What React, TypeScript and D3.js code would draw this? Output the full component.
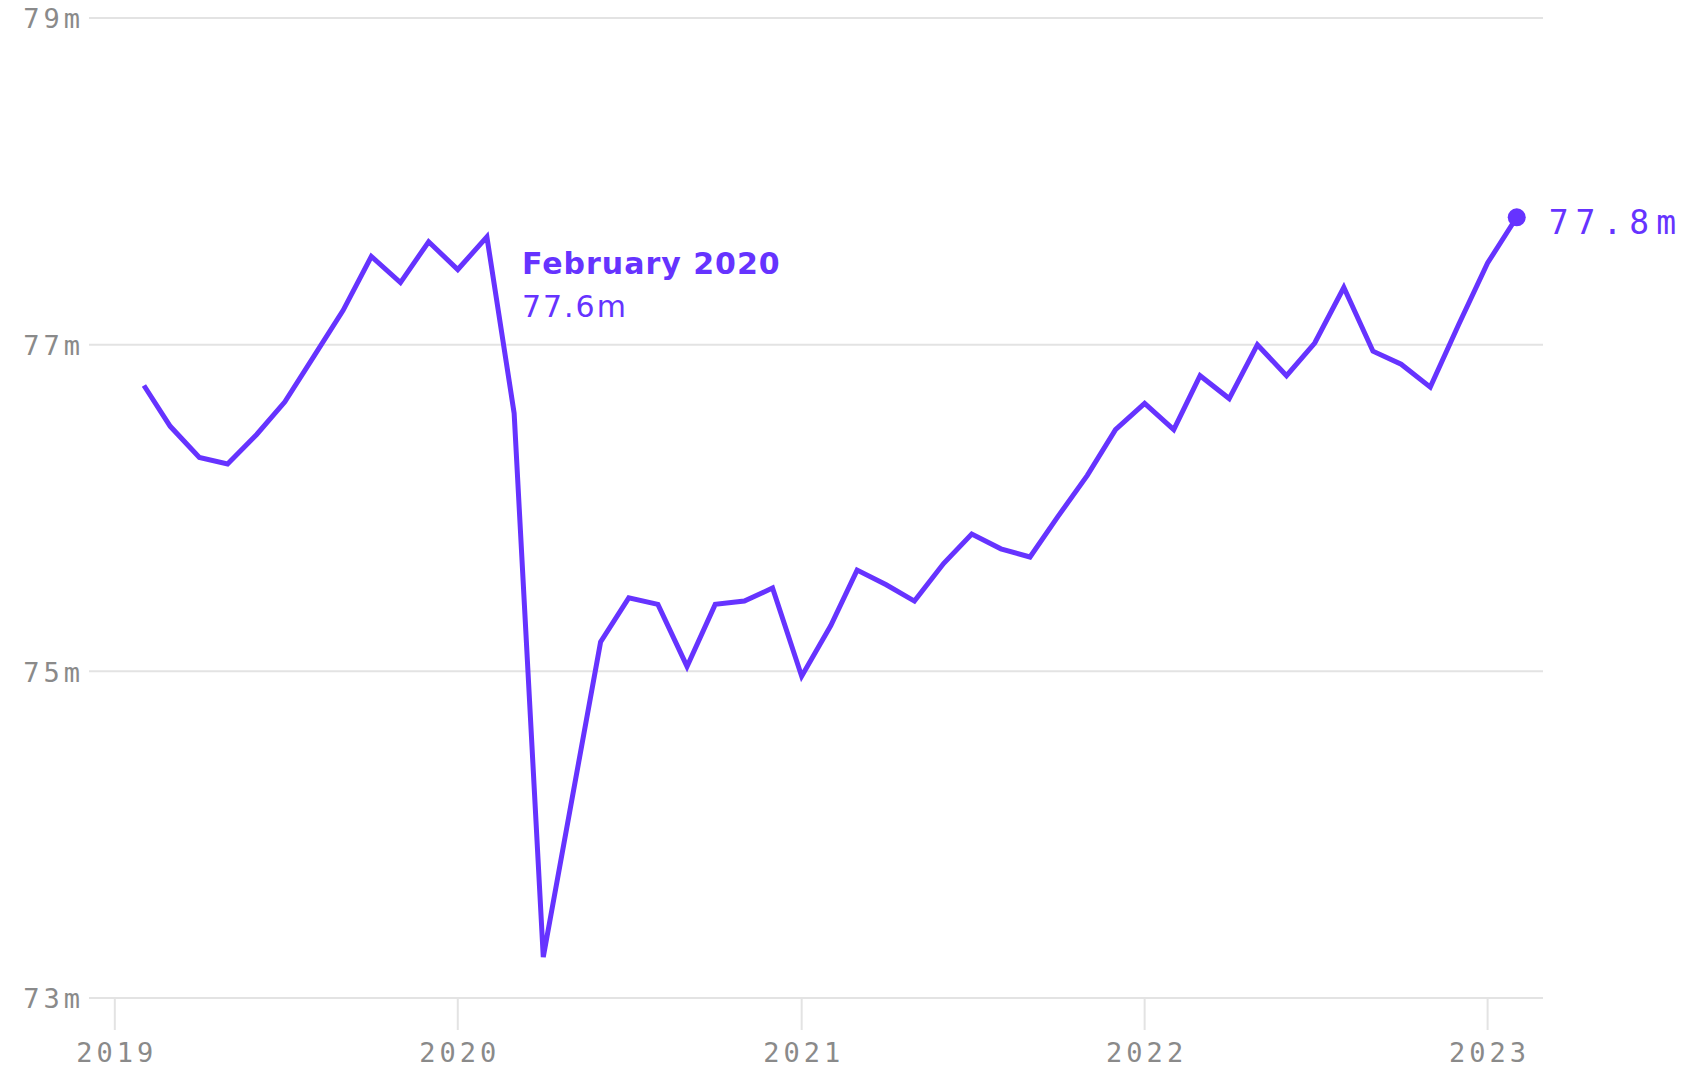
import React, { useEffect, useRef } from "react";
import * as d3 from "d3";

const months: string[] = [
  "2019-02","2019-03","2019-04","2019-05","2019-06","2019-07","2019-08","2019-09","2019-10","2019-11","2019-12",
  "2020-01","2020-02","2020-03","2020-04","2020-05","2020-06","2020-07","2020-08","2020-09","2020-10","2020-11","2020-12",
  "2021-01","2021-02","2021-03","2021-04","2021-05","2021-06","2021-07","2021-08","2021-09","2021-10","2021-11","2021-12",
  "2022-01","2022-02","2022-03","2022-04","2022-05","2022-06","2022-07","2022-08","2022-09","2022-10","2022-11","2022-12",
  "2023-01","2023-02",
];
const values: number[] = [
  76.75, 76.5, 76.31, 76.27, 76.45, 76.65, 76.93, 77.21, 77.54, 77.38, 77.63,
  77.46, 77.66, 76.58, 73.25, 74.2, 75.18, 75.45, 75.41, 75.03, 75.41, 75.43, 75.51,
  74.97, 75.28, 75.62, 75.53, 75.43, 75.66, 75.84, 75.75, 75.7, 75.95, 76.2, 76.48,
  76.64, 76.48, 76.81, 76.67, 77.0, 76.81, 77.01, 77.35, 76.96, 76.88, 76.74, 77.12,
  77.5, 77.78,
];
const yTicks: number[] = [73, 75, 77, 79];
const xTickYears: number[] = [2019, 2020, 2021, 2022, 2023];
const peakLabel = "February 2020";
const peakValue = "77.6m";
const lastLabel = "77.8m";

const W = 1683;
const H = 1067;
const COLOR = "#6633ff";
const GRID = "#e3e3e3";
const LABEL = "#8a8a8a";
const MONO = "'DejaVu Sans Mono', 'Liberation Mono', monospace";
const SANS = "'DejaVu Sans', 'Noto Sans', sans-serif";

export default function App() {
  const ref = useRef<SVGSVGElement>(null);

  useEffect(() => {
    const svg = d3.select(ref.current);
    svg.selectAll("*").remove();
    const parse = d3.timeParse("%Y-%m");
    const data = months.map((m, i) => ({ date: parse(m) as Date, value: values[i] }));

    const x = d3
      .scaleTime()
      .domain([new Date(2019, 0, 1), new Date(2023, 0, 1)])
      .range([114.8, 1487.6]);
    const y = d3.scaleLinear().domain([73, 79]).range([998, 18]);

    const gridX0 = 89;
    const gridX1 = 1543;

    const g = svg.append("g");
    yTicks.forEach((t) => {
      g.append("line")
        .attr("x1", gridX0)
        .attr("x2", gridX1)
        .attr("y1", y(t))
        .attr("y2", y(t))
        .attr("stroke", GRID)
        .attr("stroke-width", 2);
      g.append("text")
        .attr("x", 84)
        .attr("y", y(t) + 1)
        .attr("dy", "0.35em")
        .attr("text-anchor", "end")
        .attr("font-family", MONO)
        .attr("font-size", 27)
        .attr("letter-spacing", 4)
        .attr("fill", LABEL)
        .text(`${t}m`);
    });

    xTickYears.forEach((yr) => {
      const xx = x(new Date(yr, 0, 1));
      g.append("line")
        .attr("x1", xx)
        .attr("x2", xx)
        .attr("y1", 998)
        .attr("y2", 1030)
        .attr("stroke", GRID)
        .attr("stroke-width", 2);
      g.append("text")
        .attr("x", xx + 2)
        .attr("y", 1062)
        .attr("text-anchor", "middle")
        .attr("font-family", MONO)
        .attr("font-size", 27)
        .attr("letter-spacing", 4)
        .attr("fill", LABEL)
        .text(String(yr));
    });

    const line = d3
      .line<{ date: Date; value: number }>()
      .x((d) => x(d.date))
      .y((d) => y(d.value));

    svg
      .append("path")
      .datum(data)
      .attr("d", line)
      .attr("fill", "none")
      .attr("stroke", COLOR)
      .attr("stroke-width", 5)
      .attr("stroke-linejoin", "miter");

    const last = data[data.length - 1];
    svg
      .append("circle")
      .attr("cx", x(last.date))
      .attr("cy", y(last.value))
      .attr("r", 9)
      .attr("fill", COLOR);

    svg
      .append("text")
      .attr("x", x(last.date) + 32)
      .attr("y", y(last.value) + 5)
      .attr("dy", "0.35em")
      .attr("font-family", MONO)
      .attr("font-size", 33)
      .attr("letter-spacing", 7)
      .attr("fill", COLOR)
      .text(lastLabel);

    const peak = data[12];
    const px = x(peak.date) + 35;
    svg
      .append("text")
      .attr("x", px)
      .attr("y", 274)
      .attr("font-family", SANS)
      .attr("font-weight", 700)
      .attr("font-size", 30)
      .attr("letter-spacing", 1)
      .attr("fill", COLOR)
      .text(peakLabel);
    svg
      .append("text")
      .attr("x", px)
      .attr("y", 317)
      .attr("font-family", SANS)
      .attr("font-weight", 400)
      .attr("font-size", 30)
      .attr("letter-spacing", 2)
      .attr("fill", COLOR)
      .text(peakValue);
  }, []);

  return (
    <svg
      ref={ref}
      width={W}
      height={H}
      style={{ position: "absolute", left: 0, top: 0, display: "block", background: "#fff" }}
    />
  );
}
